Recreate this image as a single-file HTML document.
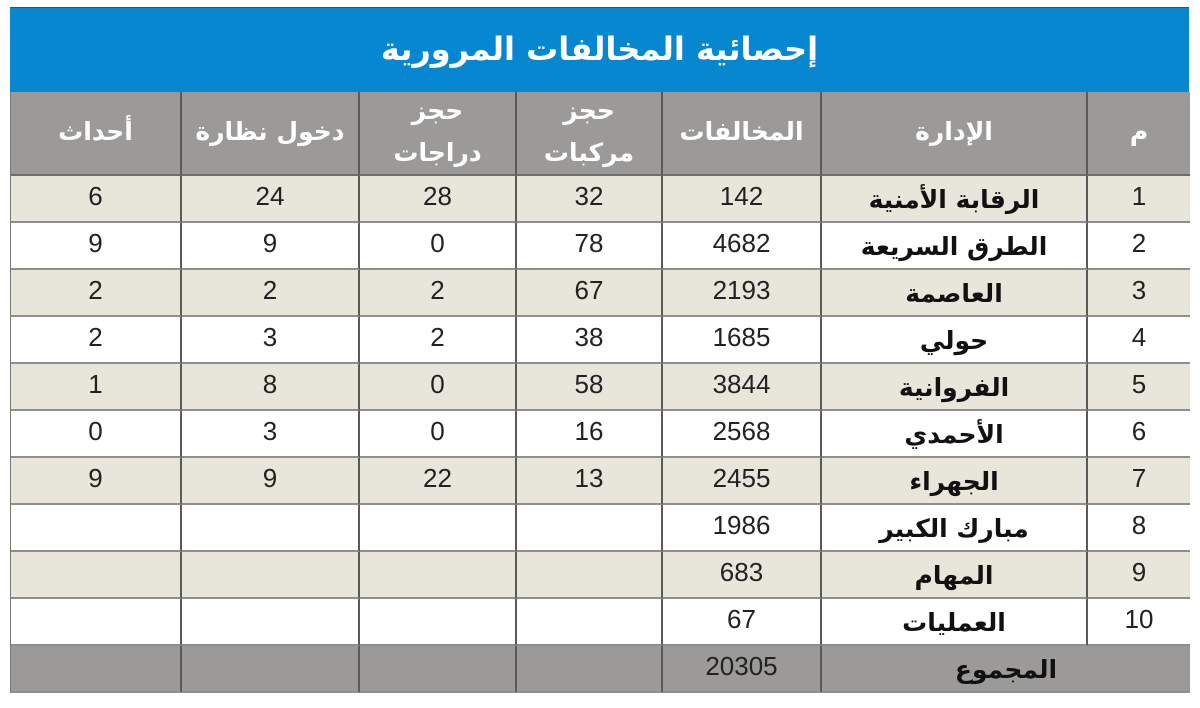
<!DOCTYPE html>
<html><head><meta charset="utf-8">
<style>
html,body{margin:0;padding:0;background:#fff;}
body{width:1200px;height:708px;position:relative;overflow:hidden;font-family:"Liberation Sans","DejaVu Sans",sans-serif;}
.title{position:absolute;left:10px;top:7px;width:1179px;height:85px;background:#0787d0;border-top:1px solid #2a5a7a;box-sizing:border-box;color:#fff;font-family:"DejaVu Sans",sans-serif;font-weight:bold;font-size:32px;display:flex;align-items:center;justify-content:center;direction:rtl;padding-bottom:3px;}
.grid{position:absolute;left:10px;top:92px;width:1179px;display:grid;grid-template-columns:171px 178px 157px 146px 159px 266px 102px;grid-template-rows:84px repeat(11,47px);border-left:1px solid #777;border-right:1px solid #888;box-sizing:border-box;}
.grid div{box-sizing:border-box;border-right:2px solid #5a5a5a;border-bottom:2px solid #8e8e8e;display:flex;align-items:center;justify-content:center;color:#222;font-size:26px;padding-bottom:5px;}
.grid div.last{border-right:none;}
.h{background:#9b9a98;color:#fff !important;font-family:"DejaVu Sans",sans-serif;font-weight:bold;font-size:25px !important;direction:rtl;text-align:center;line-height:42px;border-bottom-color:#6e6e6e !important;padding-bottom:3px !important;}
.t{background:#e8e5db;}
.w{background:#fff;}
.g{background:#9b9a98;}
.n{font-family:"DejaVu Sans",sans-serif;font-weight:bold;color:#111 !important;direction:rtl;font-size:25px !important;padding-bottom:0 !important;padding-top:2px;}
</style></head><body>
<div class="title">إحصائية المخالفات المرورية</div>
<div class="grid">
<div class="h">أحداث</div><div class="h">دخول نظارة</div><div class="h">حجز<br>دراجات</div><div class="h">حجز<br>مركبات</div><div class="h">المخالفات</div><div class="h">الإدارة</div><div class="h last">م</div>

<div class="t">6</div><div class="t">24</div><div class="t">28</div><div class="t">32</div><div class="t">142</div><div class="t n">الرقابة الأمنية</div><div class="t last">1</div>
<div class="w">9</div><div class="w">9</div><div class="w">0</div><div class="w">78</div><div class="w">4682</div><div class="w n">الطرق السريعة</div><div class="w last">2</div>
<div class="t">2</div><div class="t">2</div><div class="t">2</div><div class="t">67</div><div class="t">2193</div><div class="t n">العاصمة</div><div class="t last">3</div>
<div class="w">2</div><div class="w">3</div><div class="w">2</div><div class="w">38</div><div class="w">1685</div><div class="w n">حولي</div><div class="w last">4</div>
<div class="t">1</div><div class="t">8</div><div class="t">0</div><div class="t">58</div><div class="t">3844</div><div class="t n">الفروانية</div><div class="t last">5</div>
<div class="w">0</div><div class="w">3</div><div class="w">0</div><div class="w">16</div><div class="w">2568</div><div class="w n">الأحمدي</div><div class="w last">6</div>
<div class="t">9</div><div class="t">9</div><div class="t">22</div><div class="t">13</div><div class="t">2455</div><div class="t n">الجهراء</div><div class="t last">7</div>
<div class="w"></div><div class="w"></div><div class="w"></div><div class="w"></div><div class="w">1986</div><div class="w n">مبارك الكبير</div><div class="w last">8</div>
<div class="t"></div><div class="t"></div><div class="t"></div><div class="t"></div><div class="t">683</div><div class="t n">المهام</div><div class="t last">9</div>
<div class="w"></div><div class="w"></div><div class="w"></div><div class="w"></div><div class="w">67</div><div class="w n">العمليات</div><div class="w last">10</div>
<div class="g"></div><div class="g"></div><div class="g"></div><div class="g"></div><div class="g">20305</div><div class="g n last" style="grid-column:span 2;">المجموع</div>
</div>
</body></html>
